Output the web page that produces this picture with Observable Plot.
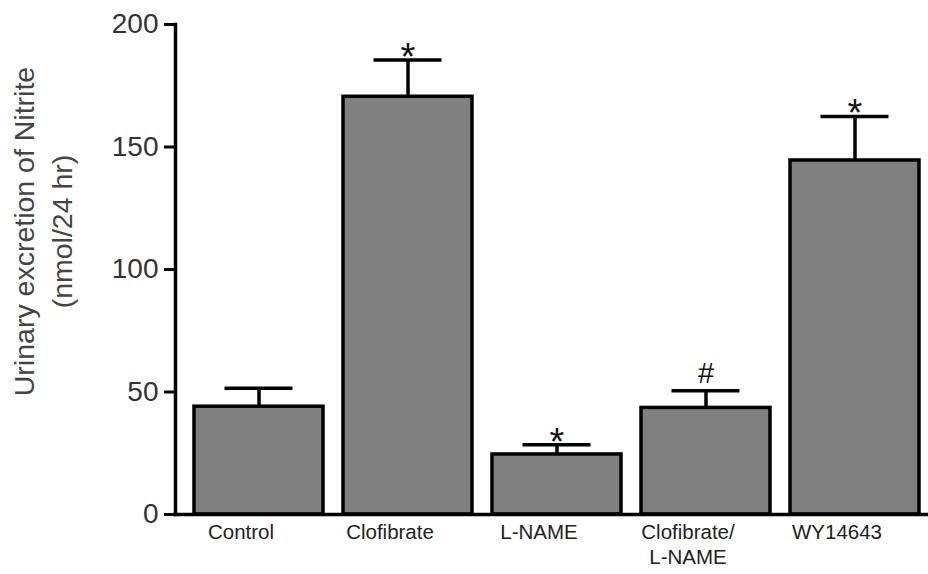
<!DOCTYPE html>
<html>
<head>
<meta charset="utf-8">
<script src="https://cdn.jsdelivr.net/npm/d3@7"></script>
<script src="https://cdn.jsdelivr.net/npm/@observablehq/plot@0.6"></script>
<style>
  html, body { margin: 0; padding: 0; background: #fff; }
  svg { display: block; }
</style>
</head>
<body>
<div id="chart"></div>
<script>
const groups = ["Control", "Clofibrate", "L-NAME", "Clofibrate/L-NAME", "WY14643"];
const groupLabels = ["Control", "Clofibrate", "L-NAME", "Clofibrate/\nL-NAME", "WY14643"];
const means = [44, 170.5, 24.5, 43.5, 144.5];
const sems = [7.5, 15, 4, 7, 18];
const marks = ["", "*", "*", "#", "*"];
const yTicks = [0, 50, 100, 150, 200];
const yLabel = "Urinary excretion of Nitrite\n(nmol/24 hr)";

const data = groups.map((g, i) => ({group: g, label: groupLabels[i], mean: means[i], sem: sems[i], top: means[i] + sems[i], mark: marks[i]}));
const labelOf = new Map(groups.map((g, i) => [g, groupLabels[i]]));

const font = "'Liberation Sans', Arial, Helvetica, sans-serif";

const chart = Plot.plot({
  width: 928,
  height: 574,
  marginLeft: 175,
  marginRight: 3,
  marginTop: 24,
  marginBottom: 60,
  style: {fontFamily: font, background: "#fff"},
  x: {domain: groups, paddingInner: 0.136, paddingOuter: 0.08, align: 0.75, axis: null},
  y: {domain: [0, 200], axis: null},
  marks: [
    Plot.barY(data, {x: "group", y: "mean", fill: "#808080", stroke: "#000", strokeWidth: 3.5}),
    Plot.ruleX(data, {x: "group", y1: "mean", y2: "top", stroke: "#000", strokeWidth: 3.5}),
    Plot.tickY(data, {x: "group", y: "top", stroke: "#000", strokeWidth: 3.5, insetLeft: 30.5, insetRight: 30.5}),
    Plot.text(data, {filter: d => d.mark === "*", x: "group", y: "top", text: "mark", lineAnchor: "bottom", dy: 10, fontSize: 38, fill: "#111", fontFamily: font}),
    Plot.text(data, {filter: d => d.mark === "#", x: "group", y: "top", text: "mark", lineAnchor: "bottom", dy: -8, fontSize: 29, fill: "#111", fontFamily: font}),
    Plot.ruleY([0], {stroke: "#000", strokeWidth: 3.5, insetLeft: -2, insetRight: -3}),
    Plot.frame({anchor: "left", stroke: "#000", strokeWidth: 3.5}),
    Plot.axisY({ticks: yTicks, tickSize: 11, tickPadding: 6, tickFormat: d => String(d), fontSize: 28, fill: "#333", stroke: "#000", strokeWidth: 3, anchor: "left", label: null}),
    Plot.axisX({domain: groups, tickSize: 0, tickPadding: 7, tickFormat: d => labelOf.get(d), fontSize: 20.5, fill: "#222", dx: -18, lineHeight: 1.2, anchor: "bottom", label: null}),
    Plot.text([yLabel], {frameAnchor: "left", dx: -135, dy: -38, rotate: -90, text: d => d, fontSize: 28.5, fill: "#444", lineHeight: 1.36, textAnchor: "middle"})
  ]
});
document.getElementById("chart").appendChild(chart);
</script>
</body>
</html>
